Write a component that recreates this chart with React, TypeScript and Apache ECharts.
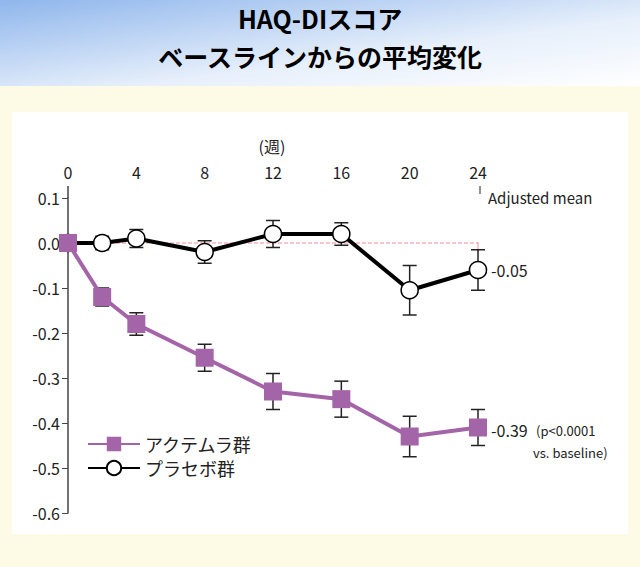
import React, { useEffect, useRef } from 'react';
import * as echarts from 'echarts';

const weeks = [0, 2, 4, 8, 12, 16, 20, 24];
const actemra = [0, -0.12, -0.18, -0.255, -0.33, -0.347, -0.43, -0.41];
const actemraErr = [0, 0.02, 0.025, 0.03, 0.04, 0.04, 0.045, 0.04];
const placebo = [0, 0.0, 0.01, -0.02, 0.02, 0.02, -0.105, -0.06];
const placeboErr = [0, 0.015, 0.02, 0.025, 0.03, 0.025, 0.055, 0.045];
const baselineWeeks = [0, 24];
const baselineVals = [0, 0];

const font = '"Noto Sans CJK JP", sans-serif';

const errSeries = (vals: number[], errs: number[], color: string) => ({
  type: 'custom',
  z: 1,
  silent: true,
  data: weeks.map((w, i) => [w, vals[i] - errs[i], vals[i] + errs[i]]),
  renderItem: (_p: any, api: any) => {
    if (api.value(2) === api.value(1)) return null;
    const lo = api.coord([api.value(0), api.value(1)]);
    const hi = api.coord([api.value(0), api.value(2)]);
    const s = { stroke: color, lineWidth: 1.5 };
    return {
      type: 'group',
      children: [
        { type: 'line', shape: { x1: lo[0], y1: lo[1], x2: hi[0], y2: hi[1] }, style: s },
        { type: 'line', shape: { x1: lo[0] - 7, y1: lo[1], x2: lo[0] + 7, y2: lo[1] }, style: s },
        { type: 'line', shape: { x1: hi[0] - 7, y1: hi[1], x2: hi[0] + 7, y2: hi[1] }, style: s },
      ],
    };
  },
});

const App: React.FC = () => {
  const chartRef = useRef<HTMLDivElement>(null);

  useEffect(() => {
    if (!chartRef.current) return;
    const chart = echarts.init(chartRef.current, null, { renderer: 'svg' });
    chart.setOption({
      animation: false,
      backgroundColor: '#fdfae6',
      graphic: [
        {
          type: 'rect', z: -10, shape: { x: 0, y: 0, width: 640, height: 86 },
          style: {
            fill: new echarts.graphic.LinearGradient(0, 0, 1, 1, [
              { offset: 0, color: '#8fb6ec' },
              { offset: 0.6, color: '#e6effb' },
              { offset: 1, color: '#ffffff' },
            ]),
          },
        },
        { type: 'rect', z: -10, shape: { x: 12, y: 112, width: 616, height: 422 }, style: { fill: '#ffffff' } },
        {
          type: 'text', x: 320, y: 18, style: {
            text: 'HAQ-DIスコア', fill: '#000', font: `bold 25px ${font}`, textAlign: 'center', textVerticalAlign: 'middle',
          },
        },
        {
          type: 'text', x: 320, y: 56, style: {
            text: 'ベースラインからの平均変化', fill: '#000', font: `bold 25px ${font}`, textAlign: 'center', textVerticalAlign: 'middle',
          },
        },
        { type: 'text', x: 272, y: 146, style: { text: '(週)', fill: '#222', font: `16px ${font}`, textAlign: 'center', textVerticalAlign: 'middle' } },
        { type: 'line', shape: { x1: 68, y1: 186, x2: 68, y2: 198 }, style: { stroke: '#444', lineWidth: 1.5 } },
        { type: 'line', shape: { x1: 480, y1: 186, x2: 480, y2: 194 }, style: { stroke: '#222', lineWidth: 1 } },
        { type: 'text', x: 488, y: 197, style: { text: 'Adjusted mean', fill: '#222', font: `15px ${font}`, textVerticalAlign: 'middle' } },
        { type: 'text', x: 491, y: 270, style: { text: '-0.05', fill: '#222', font: `16px ${font}`, textVerticalAlign: 'middle' } },
        { type: 'text', x: 491, y: 430, style: { text: '-0.39', fill: '#222', font: `16px ${font}`, textVerticalAlign: 'middle' } },
        { type: 'text', x: 536, y: 430, style: { text: '(p<0.0001', fill: '#222', font: `13px ${font}`, textVerticalAlign: 'middle' } },
        { type: 'text', x: 533, y: 452, style: { text: 'vs. baseline)', fill: '#222', font: `13px ${font}`, textVerticalAlign: 'middle' } },
        { type: 'line', shape: { x1: 478, y1: 242, x2: 478, y2: 252 }, style: { stroke: '#f58a9a', lineWidth: 1 } },
      ],
      legend: {
        left: 82, top: 430, orient: 'vertical', itemGap: 6, itemWidth: 52, itemHeight: 18,
        textStyle: { fontFamily: font, fontSize: 18, color: '#222' },
        data: ['アクテムラ群', 'プラセボ群'],
      },
      grid: { left: 68, right: 162, top: 198, bottom: 54 },
      xAxis: {
        type: 'value', position: 'top', min: 0, max: 24, interval: 4,
        axisLine: { show: false },
        axisTick: { show: false },
        splitLine: { show: false },
        axisLabel: { color: '#222', fontSize: 16, fontFamily: font, margin: 18 },
      },
      yAxis: {
        type: 'value', min: -0.6, max: 0.1, interval: 0.1,
        axisLine: { show: true, lineStyle: { color: '#444', width: 1.5 } },
        axisTick: { show: true, length: 6, lineStyle: { color: '#444' } },
        splitLine: { show: false },
        axisLabel: { color: '#222', fontSize: 16, fontFamily: font, formatter: (v: number) => v.toFixed(1) },
      },
      series: [
        {
          type: 'line', z: 0, silent: true, symbol: 'none',
          data: baselineWeeks.map((w, i) => [w, baselineVals[i]]),
          lineStyle: { color: '#f58a9a', type: 'dashed', width: 1 },
        },
        errSeries(placebo, placeboErr, '#222'),
        errSeries(actemra, actemraErr, '#222'),
        {
          name: 'プラセボ群', type: 'line', z: 3,
          data: weeks.map((w, i) => [w, placebo[i]]),
          symbol: 'circle', symbolSize: 17,
          lineStyle: { color: '#000', width: 4 },
          itemStyle: { color: '#fff', borderColor: '#000', borderWidth: 1.5 },
        },
        {
          name: 'アクテムラ群', type: 'line', z: 4,
          data: weeks.map((w, i) => [w, actemra[i]]),
          symbol: 'rect', symbolSize: 18,
          lineStyle: { color: '#a464a8', width: 4 },
          itemStyle: { color: '#a464a8' },
        },
      ],
    });
    return () => chart.dispose();
  }, []);

  return <div ref={chartRef} style={{ position: 'fixed', left: 0, top: 0, width: 640, height: 567 }} />;
};

export default App;
